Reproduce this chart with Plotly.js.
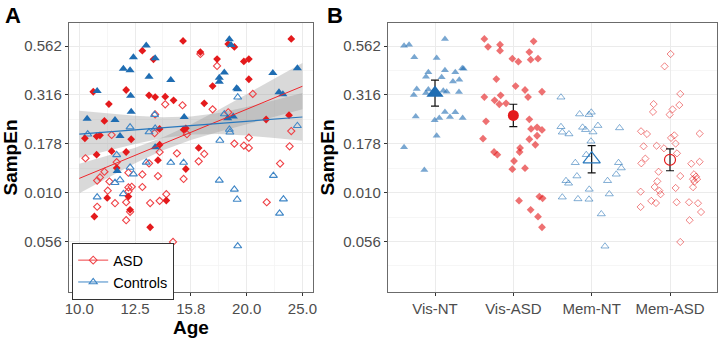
<!DOCTYPE html>
<html>
<head>
<meta charset="utf-8">
<script src="https://cdn.plot.ly/plotly-3.0.1.min.js"></script>
<style>
  html, body { margin: 0; padding: 0; background: #fff; }
  #chart { width: 720px; height: 338px; }
</style>
</head>
<body>
<div id="chart"></div>
<script>
// Axes are in log10 units: ticks sit at even log steps, labelled with the back-transformed values.
const ageTicks = [1.0, 1.1, 1.2, 1.3, 1.4];
const ageTickText = ['10.0', '12.5', '15.8', '20.0', '25.0'];
const sampTicks = [-0.25, -0.5, -0.75, -1.0, -1.25];
const sampTickText = ['0.562', '0.316', '0.178', '0.010', '0.056'];
const groupNames = ['Vis-NT', 'Vis-ASD', 'Mem-NT', 'Mem-ASD'];

// Panel A: log10(age) against log10(SampEn), per condition
const visNtAge = [1.120,1.097,1.136,1.079,1.091,1.125,1.164,1.032,1.092,1.093,1.014,1.064,1.188,1.073,1.136,1.269,1.272,1.260,1.251,1.251,1.284,1.282,1.347,1.391,1.358,1.365,1.266,1.276,1.068];
const visNtSamp = [-0.248,-0.308,-0.313,-0.366,-0.374,-0.407,-0.424,-0.480,-0.504,-0.586,-0.622,-0.628,-0.613,-0.710,-0.768,-0.216,-0.245,-0.386,-0.412,-0.433,-0.471,-0.466,-0.388,-0.364,-0.487,-0.497,-0.620,-0.611,-0.889];

const memNtAge = [1.284,1.260,1.135,1.091,1.136,1.125,1.269,1.270,1.015,1.252,1.391,1.067,1.120,1.164,1.187,1.091,1.097,1.073,1.064,1.079,1.032,1.251,1.278,1.283,1.348,1.366,1.359,1.284];
const memNtSamp = [-0.512,-0.598,-0.601,-0.665,-0.671,-0.690,-0.677,-0.691,-0.701,-0.733,-0.658,-0.807,-0.845,-0.846,-0.846,-0.871,-0.905,-0.935,-0.949,-1.006,-1.023,-0.937,-0.983,-1.035,-0.913,-1.033,-1.106,-1.273];

const visAsdAge = [1.186,1.380,1.113,1.133,1.217,1.247,1.267,1.278,1.295,1.304,1.304,1.239,1.084,1.025,1.125,1.136,1.154,1.169,1.053,1.224,1.045,1.010,1.031,1.037,1.093,1.144,1.187,1.191,1.144,1.031,1.058,1.084,1.067,1.141,1.214,1.335,1.376,1.191,1.050,1.088,1.027,1.091,1.156,1.127];
const visAsdSamp = [-0.224,-0.214,-0.274,-0.318,-0.281,-0.317,-0.240,-0.255,-0.329,-0.317,-0.420,-0.455,-0.475,-0.484,-0.502,-0.511,-0.509,-0.528,-0.547,-0.543,-0.633,-0.722,-0.712,-0.707,-0.727,-0.674,-0.678,-0.671,-0.755,-0.806,-0.788,-0.792,-0.874,-0.834,-0.771,-0.626,-0.604,-0.879,-1.027,-1.020,-1.122,-1.088,-1.040,-1.177];

const memAsdAge = [1.217,1.247,1.311,1.154,1.185,1.239,1.136,1.267,1.058,1.135,1.193,1.304,1.380,1.278,1.295,1.304,1.377,1.144,1.175,1.224,1.214,1.011,1.067,1.125,1.360,1.032,1.037,1.045,1.054,1.088,1.113,1.141,1.187,1.051,1.088,1.094,1.088,1.113,1.156,1.064,1.084,1.127,1.144,1.032,1.091,1.084,1.168,1.336];
const memAsdSamp = [-0.291,-0.352,-0.495,-0.548,-0.553,-0.574,-0.600,-0.589,-0.705,-0.696,-0.701,-0.719,-0.685,-0.749,-0.759,-0.771,-0.763,-0.792,-0.799,-0.802,-0.840,-0.824,-0.844,-0.850,-0.851,-0.938,-0.922,-0.893,-0.943,-0.898,-0.907,-0.915,-0.930,-0.990,-0.973,-0.970,-0.993,-0.971,-1.008,-1.054,-1.049,-1.053,-1.042,-1.072,-1.098,-1.141,-1.252,-1.049];

// Linear fits with 95% confidence ribbons
const fitAge = [1.0, 1.4];
const asdFit = [-0.927, -0.456];
const ntFit = [-0.701, -0.613];
const bandAge = [1.0, 1.05, 1.1, 1.15, 1.2, 1.25, 1.3, 1.35, 1.4];
const asdBandHi = [-0.852,-0.813,-0.770,-0.717,-0.651,-0.576,-0.497,-0.418,-0.337];
const asdBandLo = [-1.003,-0.924,-0.849,-0.783,-0.731,-0.688,-0.649,-0.611,-0.574];
const ntBandHi = [-0.581,-0.595,-0.607,-0.615,-0.611,-0.592,-0.562,-0.527,-0.491];
const ntBandLo = [-0.822,-0.785,-0.751,-0.721,-0.703,-0.700,-0.708,-0.721,-0.735];

// Panel B: jittered observations per group (offset from group centre, log10 SampEn)
const visNtJitter = [-0.395,-0.331,-0.264,0.021,0.127,-0.085,-0.115,0.085,0.127,0.259,0.348,0.365,0.229,0.310,-0.233,-0.271,-0.085,0.106,0.306,-0.246,-0.004,0.055,0.127,0.191,0.259,0.353,0.021,-0.395,-0.136,0.149,-0.115];
const visNtVal = [-0.249,-0.243,-0.308,-0.311,-0.214,-0.384,-0.407,-0.410,-0.374,-0.384,-0.364,-0.366,-0.431,-0.422,-0.470,-0.501,-0.473,-0.479,-0.485,-0.611,-0.630,-0.618,-0.587,-0.613,-0.589,-0.618,-0.709,-0.768,-0.884,-0.484,-0.490];

const visAsdJitter = [-0.370,-0.323,-0.170,-0.170,-0.013,0.064,0.221,0.315,0.259,0.204,-0.217,0.029,0.149,0.366,0.188,-0.370,-0.239,-0.162,-0.179,-0.093,-0.349,0.204,0.226,0.303,0.366,0.303,0.204,-0.387,0.281,-0.246,-0.204,0.086,0.080,0.009,-0.013,0.149,0.073,0.332,0.374,0.221,0.315,0.366,0.000];
const visAsdVal = [-0.214,-0.254,-0.243,-0.274,-0.315,-0.330,-0.320,-0.315,-0.226,-0.281,-0.419,-0.455,-0.475,-0.484,-0.511,-0.511,-0.528,-0.502,-0.548,-0.543,-0.635,-0.625,-0.674,-0.666,-0.679,-0.709,-0.727,-0.724,-0.755,-0.792,-0.806,-0.771,-0.792,-0.838,-0.880,-0.875,-1.041,-1.020,-1.029,-1.088,-1.123,-1.177,-0.608];

const memNtJitter = [-0.392,-0.154,-0.034,-0.005,-0.392,-0.375,-0.290,-0.116,-0.078,0.080,0.017,0.356,-0.009,-0.069,-0.209,0.343,0.378,-0.188,0.314,-0.328,-0.295,0.203,-0.031,0.225,-0.375,-0.175,-0.034,0.123,0.170];
const memNtVal = [-0.512,-0.598,-0.601,-0.589,-0.663,-0.691,-0.700,-0.666,-0.678,-0.657,-0.690,-0.669,-0.737,-0.806,-0.847,-0.847,-0.874,-0.915,-0.906,-0.939,-0.952,-0.939,-0.983,-1.007,-1.023,-1.032,-1.034,-1.109,-1.274];

const memAsdJitter = [0.008,-0.069,0.131,-0.209,-0.217,0.033,-0.005,0.119,-0.370,-0.294,0.378,0.055,0.013,0.072,-0.337,-0.171,-0.077,0.272,0.378,-0.366,-0.315,0.089,-0.146,-0.162,0.131,0.306,0.332,0.294,0.345,0.311,-0.196,-0.136,-0.120,0.072,-0.375,0.294,-0.239,-0.179,0.085,0.243,0.357,-0.375,0.396,0.250,0.131];
const memAsdVal = [-0.291,-0.354,-0.495,-0.547,-0.587,-0.574,-0.601,-0.552,-0.686,-0.700,-0.698,-0.707,-0.720,-0.749,-0.763,-0.760,-0.773,-0.852,-0.842,-0.850,-0.826,-0.799,-0.893,-0.942,-0.915,-0.906,-0.918,-0.931,-0.931,-0.944,-0.971,-0.990,-1.008,-0.976,-0.995,-0.972,-1.042,-1.053,-1.049,-1.049,-1.054,-1.073,-1.099,-1.141,-1.252];

// Group means and standard errors
const groupMean = [-0.491, -0.605, -0.829, -0.832];
const groupSE = [0.066, 0.057, 0.070, 0.056];

const RED = '#e41a1c';
const BLUE = '#1f6db2';
const FONT = 'Liberation Sans, Arial, sans-serif';

const at = (idx, jit) => jit.map(j => idx + j);

function band(lo, hi, color) {
  return [
    { x: bandAge, y: lo, mode: 'lines', line: { width: 0 }, hoverinfo: 'skip', showlegend: false, xaxis: 'x', yaxis: 'y' },
    { x: bandAge, y: hi, mode: 'lines', line: { width: 0 }, fill: 'tonexty', fillcolor: color, hoverinfo: 'skip', showlegend: false, xaxis: 'x', yaxis: 'y' }
  ];
}

const traces = [
  ...band(ntBandLo, ntBandHi, 'rgba(150,150,150,0.36)'),
  ...band(asdBandLo, asdBandHi, 'rgba(150,150,150,0.36)'),
  { x: memAsdAge, y: memAsdSamp, mode: 'markers', showlegend: false, xaxis: 'x', yaxis: 'y',
    marker: { symbol: 'diamond-open', size: 5.5, color: '#ef4045', line: { width: 1.1 } } },
  { x: memNtAge, y: memNtSamp, mode: 'markers', showlegend: false, xaxis: 'x', yaxis: 'y',
    marker: { symbol: 'triangle-up-open', size: 7, color: '#3f86c6', line: { width: 1.1 } } },
  { x: visAsdAge, y: visAsdSamp, mode: 'markers', showlegend: false, xaxis: 'x', yaxis: 'y',
    marker: { symbol: 'diamond', size: 6, color: RED } },
  { x: visNtAge, y: visNtSamp, mode: 'markers', showlegend: false, xaxis: 'x', yaxis: 'y',
    marker: { symbol: 'triangle-up', size: 8, color: BLUE } },
  { x: fitAge, y: asdFit, mode: 'lines', showlegend: false, xaxis: 'x', yaxis: 'y',
    line: { color: '#f0262b', width: 1 } },
  { x: fitAge, y: ntFit, mode: 'lines', showlegend: false, xaxis: 'x', yaxis: 'y',
    line: { color: '#2878bd', width: 1.2 } },
  // legend keys
  { x: [null], y: [null], name: 'ASD', mode: 'lines+markers', xaxis: 'x', yaxis: 'y',
    line: { color: '#ef4045', width: 1 }, marker: { symbol: 'diamond-open', size: 6, color: '#ef4045', line: { width: 1.1 } } },
  { x: [null], y: [null], name: 'Controls', mode: 'lines+markers', xaxis: 'x', yaxis: 'y',
    line: { color: '#3f86c6', width: 1 }, marker: { symbol: 'triangle-up-open', size: 7, color: '#3f86c6', line: { width: 1.1 } } },

  // Panel B observations
  { x: at(0, visNtJitter), y: visNtVal, mode: 'markers', showlegend: false, xaxis: 'x2', yaxis: 'y2',
    marker: { symbol: 'triangle-up', size: 7, color: 'rgba(31,109,178,0.6)' } },
  { x: at(1, visAsdJitter), y: visAsdVal, mode: 'markers', showlegend: false, xaxis: 'x2', yaxis: 'y2',
    marker: { symbol: 'diamond', size: 6, color: 'rgba(228,26,28,0.62)' } },
  { x: at(2, memNtJitter), y: memNtVal, mode: 'markers', showlegend: false, xaxis: 'x2', yaxis: 'y2',
    marker: { symbol: 'triangle-up-open', size: 7, color: 'rgba(31,109,178,0.55)', line: { width: 1 } } },
  { x: at(3, memAsdJitter), y: memAsdVal, mode: 'markers', showlegend: false, xaxis: 'x2', yaxis: 'y2',
    marker: { symbol: 'diamond-open', size: 5.5, color: 'rgba(228,26,28,0.55)', line: { width: 1 } } }
];

// Panel B group means with standard-error bars
const meanStyle = [
  { symbol: 'triangle-up', size: 15, color: BLUE },
  { symbol: 'circle', size: 11, color: RED },
  { symbol: 'triangle-up-open', size: 15, color: '#2878bd', line: { width: 1.2 } },
  { symbol: 'circle-open', size: 11, color: RED, line: { width: 1.2 } }
];
groupMean.forEach((m, i) => {
  traces.push({
    x: [i], y: [m], mode: 'markers', showlegend: false, xaxis: 'x2', yaxis: 'y2',
    marker: meanStyle[i],
    error_y: { type: 'data', array: [groupSE[i]], color: '#111', thickness: 1.2, width: 4 }
  });
});

const H = 338, W = 720;
const yDom = [1 - 292 / H, 1 - 23 / H];

const common = {
  showline: true, mirror: true, linecolor: '#6b6b6b', linewidth: 1.2,
  ticks: 'outside', ticklen: 3, tickcolor: '#333', tickwidth: 1,
  tickfont: { family: FONT, size: 15, color: '#4d4d4d' },
  showgrid: true, gridcolor: '#ebebeb', gridwidth: 1,
  zeroline: false, tickmode: 'array', fixedrange: true
};
const yMinor = { tickvals: [-0.375, -0.625, -0.875, -1.125, -1.375], showgrid: true, gridcolor: '#f4f4f4', gridwidth: 0.8, ticks: '' };
const axisTitleFont = { family: FONT, size: 19, color: '#000', weight: 'bold' };

const layout = {
  width: W, height: H,
  margin: { l: 0, r: 0, t: 0, b: 0 },
  paper_bgcolor: '#fff', plot_bgcolor: '#fff',
  font: { family: FONT },
  showlegend: true,
  legend: {
    x: 72 / W, y: 1 - 243 / H, xanchor: 'left', yanchor: 'top',
    traceorder: 'normal',
    bgcolor: '#fff', bordercolor: '#333', borderwidth: 1.2,
    font: { family: FONT, size: 14.5, color: '#000' },
    itemwidth: 30, tracegroupgap: 0
  },
  xaxis: Object.assign({}, common, {
    domain: [69 / W, 313 / W], range: [0.9815, 1.419], anchor: 'y',
    tickvals: ageTicks, ticktext: ageTickText,
    minor: { tickvals: [1.05, 1.15, 1.25, 1.35], showgrid: true, gridcolor: '#f4f4f4', gridwidth: 0.8, ticks: '' },
    title: { text: 'Age', font: axisTitleFont, standoff: 4 }
  }),
  yaxis: Object.assign({}, common, {
    domain: yDom, range: [-1.508, -0.1324], anchor: 'x',
    tickvals: sampTicks, ticktext: sampTickText, minor: yMinor,
    title: { text: 'SampEn', font: axisTitleFont, standoff: 3 }
  }),
  xaxis2: Object.assign({}, common, {
    domain: [388 / W, 717 / W], range: [-0.6, 3.6], anchor: 'y2',
    tickvals: [0, 1, 2, 3], ticktext: groupNames
  }),
  yaxis2: Object.assign({}, common, {
    domain: yDom, range: [-1.508, -0.1324], anchor: 'x2',
    tickvals: sampTicks, ticktext: sampTickText, minor: yMinor,
    title: { text: 'SampEn', font: axisTitleFont, standoff: 3 }
  }),
  annotations: [
    { text: '<b>A</b>', xref: 'paper', yref: 'paper', x: 3 / W, y: 1 - 1 / H, xanchor: 'left', yanchor: 'top',
      showarrow: false, font: { family: FONT, size: 22, color: '#000' } },
    { text: '<b>B</b>', xref: 'paper', yref: 'paper', x: 325 / W, y: 1 - 1 / H, xanchor: 'left', yanchor: 'top',
      showarrow: false, font: { family: FONT, size: 22, color: '#000' } }
  ]
};

Plotly.newPlot('chart', traces, layout, { displayModeBar: false, staticPlot: true });
</script>
</body>
</html>
